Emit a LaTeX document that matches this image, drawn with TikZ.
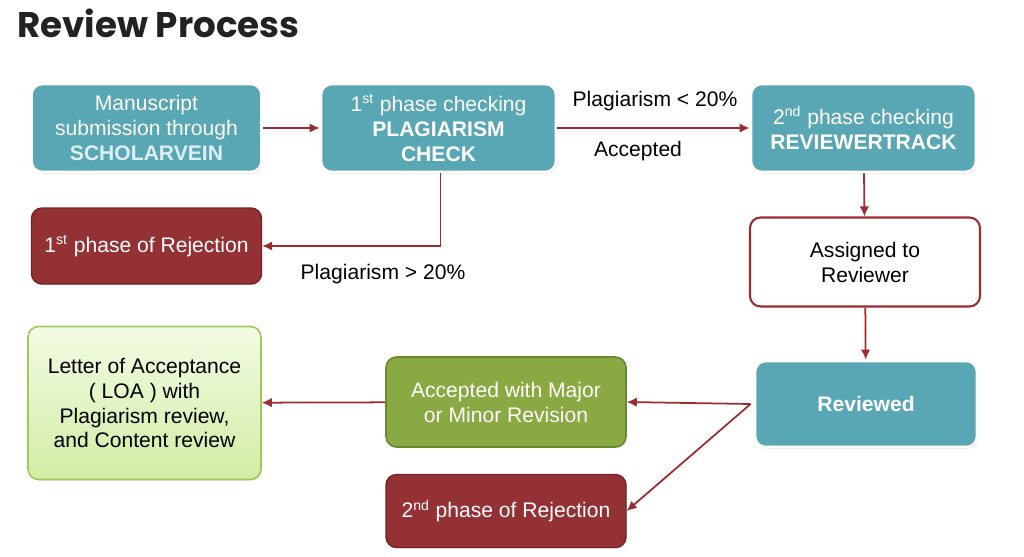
\documentclass[tikz,border=0pt]{standalone}
\usepackage{fontspec}
\setmainfont{Liberation Sans}
\newfontfamily\titlefont{Poppins}
\usetikzlibrary{arrows.meta,positioning,calc,shadows}
\definecolor{revteal}{RGB}{89,167,180}
\definecolor{revred}{RGB}{148,49,52}
\definecolor{revredline}{RGB}{118,34,38}
\definecolor{revarrow}{RGB}{155,45,48}
\definecolor{revgreen}{RGB}{137,169,66}
\definecolor{revgreenline}{RGB}{106,136,46}
\definecolor{loatop}{RGB}{243,251,228}
\definecolor{loabot}{RGB}{210,237,164}
\definecolor{loaline}{RGB}{158,199,92}
\definecolor{scholar}{RGB}{221,238,241}
\definecolor{titlegray}{RGB}{34,34,34}

\begin{document}
\begin{tikzpicture}[x=1cm,y=1cm,
  font=\fontsize{12}{14.2}\selectfont,
  title/.style={font=\titlefont\bfseries\fontsize{20.3}{24}\selectfont,text=titlegray,anchor=base west,inner sep=0pt},
  box/.style={rounded corners=6pt,align=center,inner sep=0pt},
  tealbox/.style={box,fill=revteal,draw=white,line width=1.6pt,text=white,
    drop shadow={opacity=.3,shadow xshift=.6pt,shadow yshift=-.9pt}},
  rejectbox/.style={box,fill=revred,draw=revredline,line width=.8pt,text=white,
    drop shadow={opacity=.2,shadow xshift=.5pt,shadow yshift=-.7pt}},
  whitebox/.style={box,fill=white,draw=revarrow,line width=1.2pt,text=black},
  greenbox/.style={box,fill=revgreen,draw=revgreenline,line width=.9pt,text=white,
    drop shadow={opacity=.2,shadow xshift=.5pt,shadow yshift=-.7pt}},
  loabox/.style={box,top color=loatop,bottom color=loabot,draw=loaline,line width=.9pt,text=black,
    drop shadow={opacity=.2,shadow xshift=.5pt,shadow yshift=-.7pt}},
  label/.style={text=black,inner sep=0pt},
  flow/.style={-{Latex[length=2mm,width=1.9mm]},draw=revarrow,line width=1pt}]

\path[use as bounding box] (0,0) rectangle (20.48,-11.14);
\node[title] (head) at (.34,-.75) {Review Process};

% top row
\node[tealbox,minimum width=4.6cm,minimum height=1.76cm] (submit) at (2.93,-2.56)
  {Manuscript\\submission through\\\textcolor{scholar}{\textbf{SCHOLARVEIN}}};
\node[tealbox,minimum width=4.7cm,minimum height=1.76cm] (plagcheck) at (8.77,-2.56)
  {1\textsuperscript{st} phase checking\\\textbf{PLAGIARISM}\\\textbf{CHECK}};
\node[tealbox,minimum width=4.5cm,minimum height=1.76cm] (revtrack) at (17.27,-2.56)
  {2\textsuperscript{nd} phase checking\\\textbf{REVIEWERTRACK}};
\node[rejectbox,minimum width=4.6cm,minimum height=1.52cm] (reject1) at (2.93,-4.92)
  {1\textsuperscript{st} phase of Rejection};

% right column
\node[whitebox,minimum width=4.6cm,minimum height=1.78cm] (assigned) at (17.3,-5.24)
  {Assigned to\\Reviewer};
\node[tealbox,minimum width=4.44cm,minimum height=1.72cm] (reviewed) at (17.32,-8.08)
  {\textbf{Reviewed}};

% bottom
\node[greenbox,minimum width=4.8cm,minimum height=1.8cm] (revision) at (10.12,-8.04)
  {Accepted with Major\\or Minor Revision};
\node[loabox,minimum width=4.66cm,minimum height=3.06cm] (loa) at (2.89,-8.06)
  {Letter of Acceptance\\( LOA ) with\\Plagiarism review,\\and Content review};
\node[rejectbox,minimum width=4.8cm,minimum height=1.46cm] (reject2) at (10.12,-10.22)
  {2\textsuperscript{nd} phase of Rejection};

\draw[flow] (submit)--(plagcheck);
\draw[flow] (plagcheck)--(revtrack);
\node[label] (lowplag) at (13.1,-2.02) {Plagiarism < 20\%};
\node[label] (accepted) at (12.76,-3.02) {Accepted};
\draw[flow] ([xshift=.04cm]plagcheck.south) |- (reject1.east);
\node[label] (highplag) at (7.66,-5.48) {Plagiarism > 20\%};
\draw[flow] (revtrack)--(assigned);
\draw[flow] (assigned)--(reviewed);
\coordinate (fork) at ([xshift=-.06cm]reviewed.west);
\draw[flow] (fork)--(revision.east);
\draw[flow] (fork)--(reject2.east);
\draw[flow] (revision)--(loa);

\end{tikzpicture}
\end{document}
